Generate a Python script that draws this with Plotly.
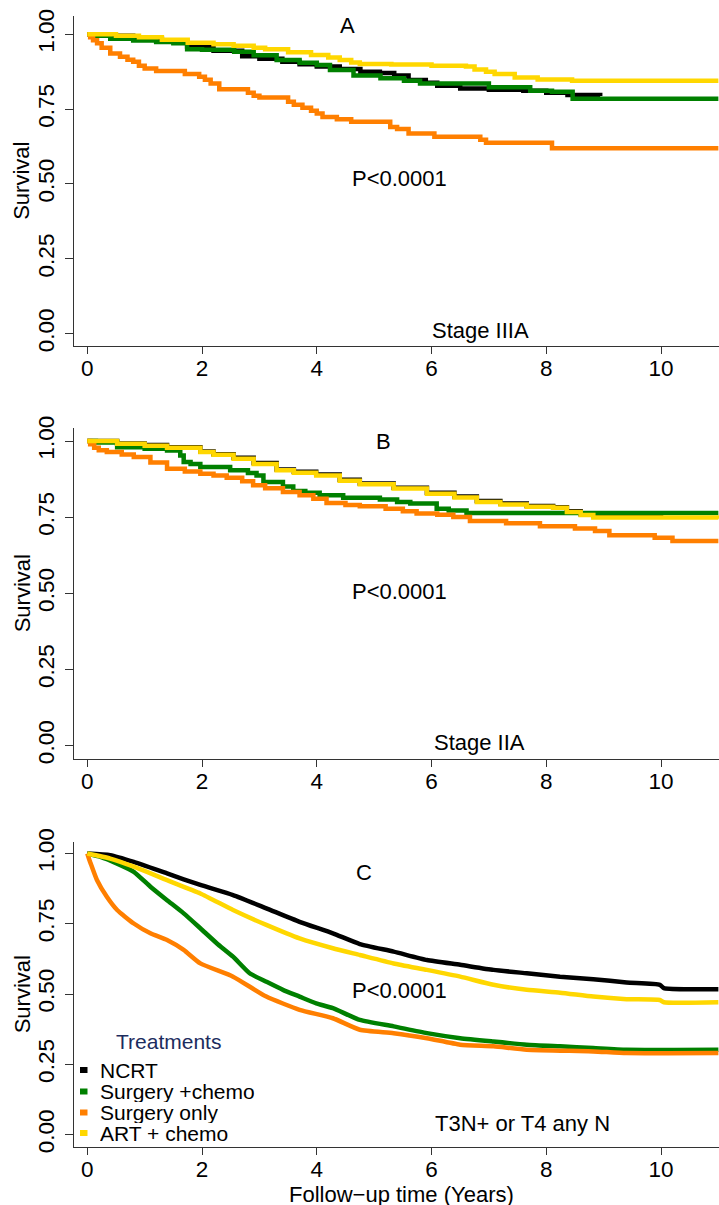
import plotly.graph_objects as go

# ---------------- data ----------------
treatments = ["NCRT", "Surgery +chemo", "Surgery only", "ART + chemo"]
colors = ["#000000", "#008000", "#FF7F00", "#FFD700"]

# Panel A: Stage IIIA
a_ncrt_t = [0, 0.3, 0.8, 1.3, 1.74, 2.2, 2.7, 3.0, 3.4, 3.7, 4.0, 4.4, 4.76, 5.1, 5.35, 5.6, 5.9, 6.1, 6.5, 7.0, 7.6, 8.0, 8.37, 8.94]
a_ncrt_s = [1.0, 0.995, 0.985, 0.975, 0.959, 0.945, 0.927, 0.918, 0.908, 0.9, 0.892, 0.884, 0.875, 0.871, 0.862, 0.847, 0.838, 0.828, 0.819, 0.815, 0.811, 0.805, 0.797, 0.794]
a_surgchemo_t = [0, 0.1, 0.4, 0.8, 1.2, 1.5, 1.74, 2.0, 2.56, 2.9, 3.3, 3.7, 4.0, 4.23, 4.64, 5.11, 5.52, 5.8, 7.0, 7.72, 8.1, 8.46, 11.0]
a_surgchemo_s = [1.0, 0.995, 0.985, 0.979, 0.974, 0.97, 0.95, 0.948, 0.942, 0.93, 0.914, 0.905, 0.897, 0.881, 0.862, 0.853, 0.845, 0.836, 0.823, 0.811, 0.808, 0.785, 0.785]
a_surgonly_t = [0, 0.05, 0.1, 0.17, 0.25, 0.4, 0.57, 0.7, 0.8, 0.9, 1.0, 1.2, 1.7, 1.95, 2.05, 2.15, 2.3, 2.8, 2.9, 3.0, 3.5, 3.6, 3.75, 3.9, 4.0, 4.1, 4.35, 4.6, 5.28, 5.4, 5.6, 6.05, 6.85, 6.95, 8.1, 11.0]
a_surgonly_s = [1.0, 0.99, 0.98, 0.97, 0.955, 0.936, 0.925, 0.915, 0.908, 0.895, 0.886, 0.877, 0.867, 0.858, 0.848, 0.836, 0.816, 0.805, 0.795, 0.789, 0.775, 0.765, 0.755, 0.745, 0.735, 0.724, 0.716, 0.708, 0.69, 0.684, 0.669, 0.658, 0.648, 0.638, 0.619, 0.619]
a_artchemo_t = [0, 0.5, 0.9, 1.3, 1.75, 2.2, 2.55, 2.9, 3.1, 3.5, 3.9, 4.2, 4.4, 4.6, 4.75, 5.3, 6.0, 6.6, 6.75, 6.95, 7.1, 7.45, 7.85, 8.45, 11.0]
a_artchemo_s = [1.0, 0.995, 0.99, 0.982, 0.972, 0.967, 0.962, 0.955, 0.95, 0.94, 0.931, 0.922, 0.914, 0.906, 0.901, 0.899, 0.895, 0.892, 0.882, 0.875, 0.867, 0.856, 0.849, 0.845, 0.845]

# Panel B: Stage IIA
b_ncrt_t = [0, 0.52, 1.0, 1.39, 1.97, 2.2, 2.55, 2.9, 3.3, 3.6, 3.99, 4.4, 4.75, 5.34, 5.92, 6.4, 6.79, 7.2, 7.66, 8.12, 8.36, 8.6, 8.82, 10.04]
b_ncrt_s = [1.0, 0.992, 0.987, 0.98, 0.966, 0.957, 0.945, 0.928, 0.907, 0.899, 0.89, 0.873, 0.861, 0.847, 0.83, 0.818, 0.803, 0.795, 0.787, 0.783, 0.77, 0.76, 0.756, 0.756]
b_surgchemo_t = [0, 0.15, 0.52, 1.0, 1.39, 1.62, 1.68, 1.8, 1.97, 2.49, 2.8, 2.95, 3.07, 3.41, 3.59, 3.8, 4.05, 4.46, 5.1, 5.4, 5.63, 6.09, 6.3, 6.61, 11.0]
b_surgchemo_s = [1.0, 0.995, 0.98, 0.975, 0.969, 0.953, 0.931, 0.925, 0.915, 0.904, 0.895, 0.887, 0.866, 0.851, 0.836, 0.83, 0.822, 0.814, 0.808, 0.8, 0.795, 0.778, 0.772, 0.764, 0.764]
b_surgonly_t = [0, 0.05, 0.12, 0.2, 0.34, 0.6, 0.81, 1.1, 1.39, 1.7, 1.97, 2.2, 2.43, 2.7, 2.89, 3.1, 3.41, 3.7, 3.94, 4.17, 4.5, 4.75, 5.2, 5.5, 5.74, 6.1, 6.38, 6.67, 7.3, 7.89, 8.5, 8.85, 9.1, 9.89, 10.2, 11.0]
b_surgonly_s = [1.0, 0.99, 0.978, 0.97, 0.964, 0.956, 0.948, 0.93, 0.909, 0.9, 0.893, 0.887, 0.88, 0.868, 0.855, 0.845, 0.833, 0.822, 0.811, 0.797, 0.79, 0.786, 0.778, 0.77, 0.762, 0.758, 0.751, 0.738, 0.73, 0.72, 0.713, 0.705, 0.691, 0.683, 0.672, 0.672]
b_artchemo_t = [0, 0.52, 1.0, 1.39, 1.97, 2.2, 2.55, 2.9, 3.3, 3.6, 3.99, 4.4, 4.75, 5.34, 5.92, 6.4, 6.79, 7.2, 7.66, 8.12, 8.36, 8.6, 8.82, 11.0]
b_artchemo_s = [1.0, 0.991, 0.985, 0.978, 0.964, 0.955, 0.942, 0.925, 0.904, 0.896, 0.887, 0.87, 0.858, 0.844, 0.827, 0.815, 0.8, 0.792, 0.784, 0.781, 0.767, 0.757, 0.749, 0.745]

# Panel C: T3N+ or T4 any N
c_ncrt_t = [0, 0.4, 0.81, 1.39, 1.97, 2.54, 3.12, 3.7, 4.28, 4.75, 5.34, 5.92, 6.5, 7.08, 7.66, 8.24, 8.82, 9.4, 9.98, 10.05, 10.45, 11.0]
c_ncrt_s = [1.0, 0.994, 0.97, 0.929, 0.888, 0.852, 0.805, 0.757, 0.716, 0.678, 0.651, 0.621, 0.604, 0.586, 0.574, 0.562, 0.553, 0.541, 0.533, 0.521, 0.517, 0.517]
c_surgchemo_t = [0, 0.23, 0.52, 0.81, 1.10, 1.39, 1.68, 1.97, 2.26, 2.54, 2.83, 3.12, 3.41, 3.7, 3.99, 4.28, 4.75, 5.34, 5.92, 6.5, 7.08, 7.66, 8.24, 8.82, 9.4, 11.0]
c_surgchemo_s = [1.0, 0.988, 0.964, 0.935, 0.882, 0.834, 0.787, 0.734, 0.68, 0.633, 0.574, 0.544, 0.515, 0.491, 0.467, 0.45, 0.408, 0.385, 0.361, 0.343, 0.331, 0.32, 0.314, 0.308, 0.302, 0.302]
c_surgonly_t = [0, 0.04, 0.08, 0.17, 0.34, 0.52, 0.81, 1.10, 1.39, 1.68, 1.97, 2.54, 3.12, 3.7, 4.28, 4.75, 5.34, 5.92, 6.5, 7.08, 7.66, 8.82, 9.4, 11.0]
c_surgonly_s = [1.0, 0.975, 0.953, 0.905, 0.846, 0.799, 0.751, 0.716, 0.692, 0.657, 0.609, 0.562, 0.491, 0.444, 0.414, 0.373, 0.361, 0.343, 0.32, 0.314, 0.302, 0.296, 0.29, 0.29]
c_artchemo_t = [0, 0.4, 0.81, 1.39, 1.97, 2.54, 3.12, 3.7, 4.28, 4.75, 5.34, 5.92, 6.5, 7.08, 7.66, 8.24, 8.82, 9.4, 9.98, 10.05, 11.0]
c_artchemo_s = [1.0, 0.982, 0.953, 0.905, 0.858, 0.799, 0.746, 0.698, 0.663, 0.639, 0.609, 0.586, 0.562, 0.533, 0.515, 0.505, 0.491, 0.482, 0.479, 0.471, 0.471]

x_tick_vals = [0, 2, 4, 6, 8, 10]
y_tick_vals = [0, 0.25, 0.5, 0.75, 1.0]
y_tick_text = ["0.00", "0.25", "0.50", "0.75", "1.00"]

panel_letters = ["A", "B", "C"]
panel_subtitles = ["Stage IIIA", "Stage IIA", "T3N+ or T4 any N"]
p_text = "P<0.0001"

# ---------------- figure ----------------
W, H = 719, 1205
FONT = "Liberation Sans, Arial, Helvetica, sans-serif"
FS = 22      # panel texts and axis titles
FS_TICK = 22.5
FS_LEG = 21

fig = go.Figure()

panels = [
    ([a_ncrt_t, a_surgchemo_t, a_surgonly_t, a_artchemo_t],
     [a_ncrt_s, a_surgchemo_s, a_surgonly_s, a_artchemo_s], "hv"),
    ([b_ncrt_t, b_surgchemo_t, b_surgonly_t, b_artchemo_t],
     [b_ncrt_s, b_surgchemo_s, b_surgonly_s, b_artchemo_s], "hv"),
    ([c_ncrt_t, c_surgchemo_t, c_surgonly_t, c_artchemo_t],
     [c_ncrt_s, c_surgchemo_s, c_surgonly_s, c_artchemo_s], "spline"),
]

for p, (ts, ss, shape) in enumerate(panels):
    xa = "x" if p == 0 else f"x{p+1}"
    ya = "y" if p == 0 else f"y{p+1}"
    for i, name in enumerate(treatments):
        line = dict(color=colors[i], width=4.5, shape=shape)
        if shape == "spline":
            line["smoothing"] = 0.5
        fig.add_trace(go.Scatter(
            x=ts[i], y=ss[i], mode="lines", name=name, line=line,
            xaxis=xa, yaxis=ya, showlegend=False, hoverinfo="skip"))

x_left_px = 74
y_doms_px = [(15.7, 346), (427.7, 759), (841.7, 1147)]
y_ranges = [[-0.041, 1.062], [-0.044, 1.044], [-0.044, 1.042]]
x_range = [-0.232, 11.011]

axis_common = dict(showline=True, linecolor="#333333", linewidth=1,
                   ticks="outside", tickcolor="#333333", tickwidth=1,
                   showgrid=False, zeroline=False, automargin=False,
                   tickfont=dict(family=FONT, size=FS_TICK, color="black"))

layout = dict(template="none", width=W, height=H,
              margin=dict(l=0, r=0, t=0, b=0, pad=0, autoexpand=False),
              paper_bgcolor="white", plot_bgcolor="white", showlegend=False,
              font=dict(family=FONT, size=FS, color="black"))

for p in range(3):
    top, bot = y_doms_px[p]
    xk = "xaxis" if p == 0 else f"xaxis{p+1}"
    yk = "yaxis" if p == 0 else f"yaxis{p+1}"
    yname = "y" if p == 0 else f"y{p+1}"
    xname = "x" if p == 0 else f"x{p+1}"
    xa = dict(axis_common, domain=[x_left_px / W, 1], range=x_range,
              tickvals=x_tick_vals, ticklen=7, anchor=yname,
              ticklabelstandoff=-5)
    ya = dict(axis_common, domain=[1 - bot / H, 1 - top / H], range=y_ranges[p],
              tickvals=y_tick_vals, ticktext=y_tick_text, tickangle=-90,
              ticklen=8, anchor=xname, ticklabelstandoff=2)
    layout[xk] = xa
    layout[yk] = ya

fig.update_layout(**layout)

# axis titles (placed as in the reference)
for p in range(3):
    top, bot = y_doms_px[p]
    fig.add_annotation(x=22 / W, y=1 - (top + bot) / 2 / H, xref="paper", yref="paper",
                       text="Survival", textangle=-90, showarrow=False,
                       xanchor="center", yanchor="middle",
                       font=dict(family=FONT, size=FS, color="black"))
fig.add_annotation(x=401 / W, y=1 - 1193.5 / H, xref="paper", yref="paper",
                   text="Follow\u2212up time (Years)", showarrow=False,
                   xanchor="center", yanchor="middle", height=22, borderpad=0,
                   font=dict(family=FONT, size=FS, color="black"))

# panel texts (data coordinates)
letter_pos = [(4.53, 1.028), (5.16, 0.999), (4.83, 0.933)]
p_pos = [(5.45, 0.519), (5.45, 0.506), (5.45, 0.511)]
sub_pos = [(6.86, 0.012), (6.84, 0.010), (7.58, 0.038)]
for p in range(3):
    xr = "x" if p == 0 else f"x{p+1}"
    yr = "y" if p == 0 else f"y{p+1}"
    for txt, (xx, yy) in [(panel_letters[p], letter_pos[p]), (p_text, p_pos[p]),
                          (panel_subtitles[p], sub_pos[p])]:
        fig.add_annotation(x=xx, y=yy, xref=xr, yref=yr, text=txt, showarrow=False,
                           font=dict(family=FONT, size=FS, color="black"),
                           xanchor="center", yanchor="middle")

# legend (panel C, drawn manually to match R's compact legend)
fig.add_annotation(x=168.5 / W, y=1 - 1041 / H, xref="paper", yref="paper",
                   text="Treatments", showarrow=False, xanchor="center", yanchor="middle",
                   font=dict(family=FONT, size=FS_LEG, color="#1C2C5E"))
leg_y_px = [1070, 1091.5, 1112.5, 1133]
for i, name in enumerate(treatments):
    cy = leg_y_px[i]
    fig.add_annotation(x=99 / W, y=1 - cy / H, xref="paper", yref="paper",
                       text=name, showarrow=False, xanchor="left", yanchor="middle",
                       height=21, borderpad=0,
                       font=dict(family=FONT, size=FS_LEG, color="black"))
    fig.add_shape(type="rect", xref="paper", yref="paper",
                  x0=80 / W, x1=87.5 / W, y0=1 - (cy + 3) / H, y1=1 - (cy - 3) / H,
                  fillcolor=colors[i], line=dict(width=0))

fig.write_html("out.html")
